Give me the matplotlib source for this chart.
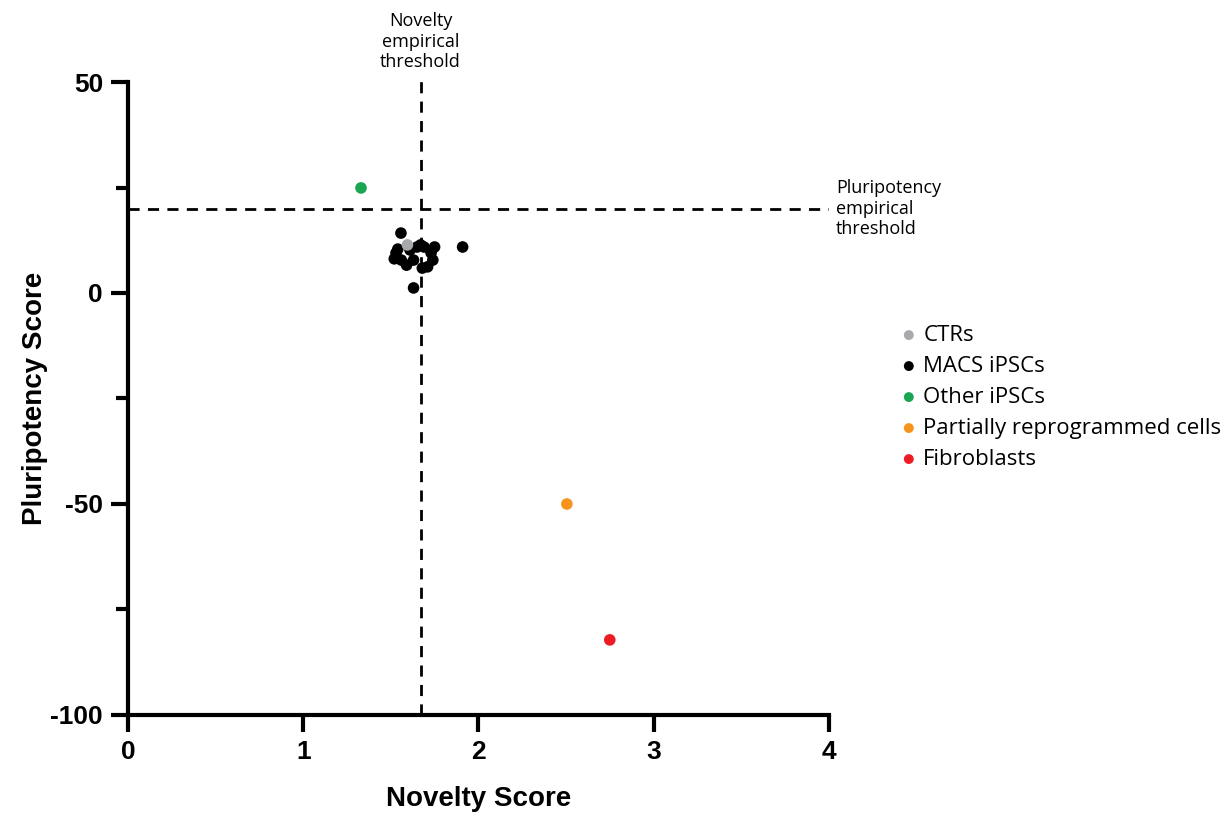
import matplotlib
matplotlib.use("Agg")
import matplotlib.pyplot as plt
from matplotlib.ticker import MultipleLocator

plt.rcParams["axes.unicode_minus"] = False

# data
ctr_x = [1.595]
ctr_y = [11.4]

macs_x = [1.558, 1.54, 1.53, 1.52, 1.56, 1.59, 1.65, 1.69, 1.75, 1.73,
          1.74, 1.71, 1.68, 1.63, 1.91, 1.63, 1.67, 1.61]
macs_y = [14.2, 10.4, 9.5, 8.1, 7.8, 6.6, 10.9, 10.9, 10.9, 9.5,
          7.8, 6.2, 5.9, 7.8, 10.9, 1.2, 11.4, 10.2]

other_x = [1.33]
other_y = [24.9]

partial_x = [2.505]
partial_y = [-50.0]

fibro_x = [2.75]
fibro_y = [-82.2]

novelty_threshold = 1.67
pluri_threshold = 20

groups = [
    ("CTRs", ctr_x, ctr_y, "#a7a9ac"),
    ("MACS iPSCs", macs_x, macs_y, "#000000"),
    ("Other iPSCs", other_x, other_y, "#1aa551"),
    ("Partially reprogrammed cells", partial_x, partial_y, "#f7941d"),
    ("Fibroblasts", fibro_x, fibro_y, "#ed1c24"),
]

fig = plt.figure(figsize=(12.26, 8.16), dpi=100)
ax = fig.add_axes([0.1044, 0.1238, 0.5716, 0.7757])

# draw black first, gray on top like the reference
order = [1, 0, 2, 3, 4]
handles = {}
for i in order:
    name, xs, ys, col = groups[i]
    handles[name] = ax.scatter(xs, ys, s=70, color=col, zorder=3, label=name,
                               edgecolors="none")

ax.axvline(novelty_threshold, color="black", ls=(0, (4, 3)), lw=2, zorder=2,
           clip_on=False, ymax=1.005)
ax.axhline(pluri_threshold, color="black", ls=(0, (4, 3)), lw=2, zorder=2)

ax.set_xlim(0, 4)
ax.set_ylim(-100, 50)
ax.xaxis.set_major_locator(MultipleLocator(1))
ax.yaxis.set_major_locator(MultipleLocator(50))
ax.yaxis.set_minor_locator(MultipleLocator(25))

for side in ["top", "right"]:
    ax.spines[side].set_visible(False)
for side in ["left", "bottom"]:
    ax.spines[side].set_linewidth(3)

ax.tick_params(which="major", direction="out", length=12, width=3,
               labelsize=19, pad=6)
ax.tick_params(which="minor", direction="out", length=9, width=3)
for lab in ax.get_xticklabels() + ax.get_yticklabels():
    lab.set_fontfamily("Liberation Sans")
    lab.set_fontweight("bold")

ax.set_xlabel("Novelty Score", fontsize=20, fontweight="bold",
              family="Liberation Sans", labelpad=16)
ax.set_ylabel("Pluripotency Score", fontsize=20, fontweight="bold",
              family="Liberation Sans", labelpad=2)

ax.text(novelty_threshold, 52.5, "Novelty\nempirical\nthreshold", ha="center",
        va="bottom", fontsize=13, family="Open Sans", linespacing=1.2)
ax.text(4.04, pluri_threshold, "Pluripotency\nempirical\nthreshold", ha="left",
        va="center", fontsize=13, family="Open Sans", linespacing=1.2,
        clip_on=False)

leg = ax.legend([handles[g[0]] for g in groups], [g[0] for g in groups],
                loc="center left", bbox_to_anchor=(0.715, 0.513), bbox_transform=fig.transFigure,
                frameon=False, prop={"family": "Open Sans", "size": 16},
                handletextpad=0.1, markerscale=0.85, labelspacing=0.45,
                handlelength=1.1)

fig.savefig("out.png", dpi=100)
